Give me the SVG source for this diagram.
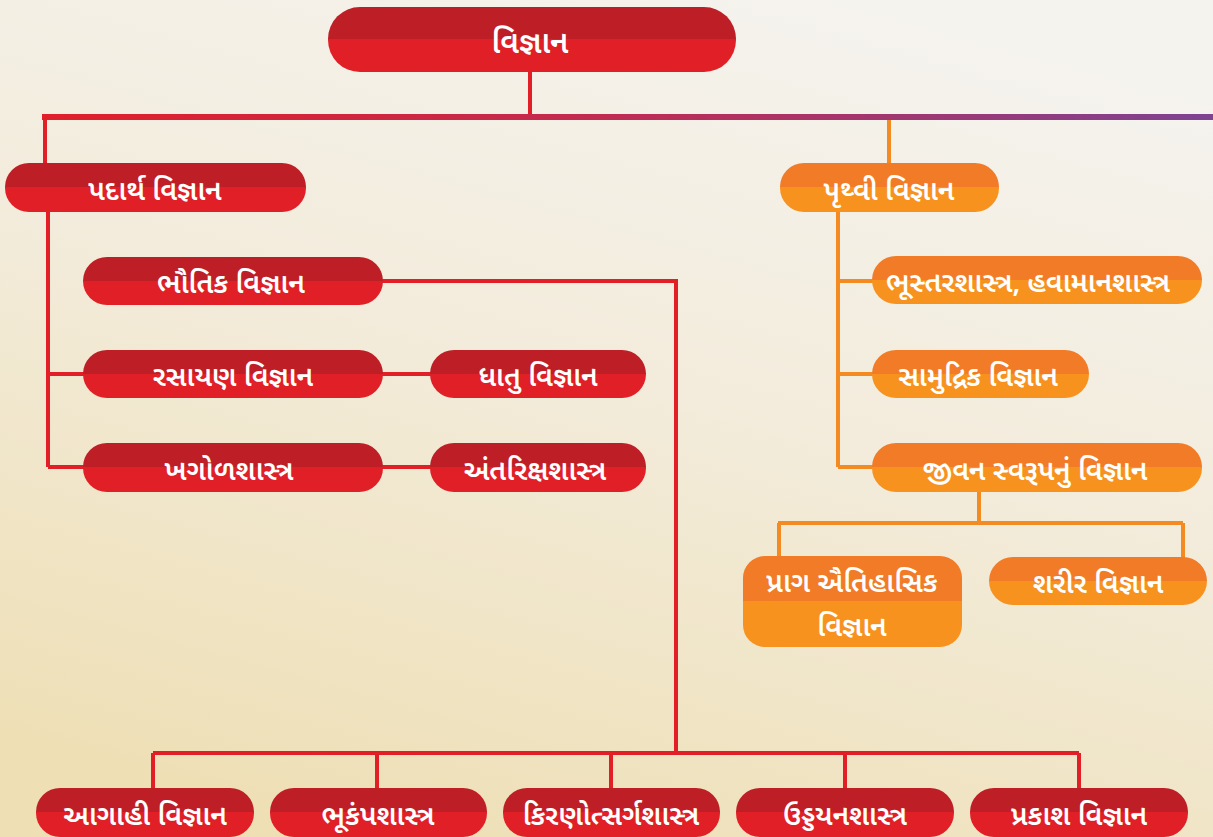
<svg xmlns="http://www.w3.org/2000/svg" width="1213" height="837" viewBox="0 0 1213 837">
<defs>
<linearGradient id="bg" x1="0.7" y1="0" x2="0.3" y2="1">
<stop offset="0" stop-color="#F5F3EE"/>
<stop offset="0.45" stop-color="#F3ECDC"/>
<stop offset="1" stop-color="#EEDFB5"/>
</linearGradient>
<linearGradient id="redP" x1="0" y1="0" x2="0" y2="1">
<stop offset="0.5" stop-color="#BE1E26"/>
<stop offset="0.5" stop-color="#E01F27"/>
</linearGradient>
<linearGradient id="orgP" x1="0" y1="0" x2="0" y2="1">
<stop offset="0.5" stop-color="#F17B27"/>
<stop offset="0.5" stop-color="#F7921F"/>
</linearGradient>
<linearGradient id="mainLine" gradientUnits="userSpaceOnUse" x1="42" y1="0" x2="1213" y2="0">
<stop offset="0" stop-color="#E01F2A"/>
<stop offset="0.45" stop-color="#C42A4E"/>
<stop offset="1" stop-color="#7E4392"/>
</linearGradient>
</defs>
<style>
.r{fill:url(#redP)}
.o{fill:url(#orgP)}
.t{fill:#FFFFFF;font-family:"Noto Sans Gujarati","Lohit Gujarati","Shruti","Noto Sans","DejaVu Sans",sans-serif;font-size:28px;font-weight:600;text-anchor:middle}
.cr{stroke:#E21E27;stroke-width:4;fill:none}
.co{stroke:#F38A22;stroke-width:4;fill:none}
</style>
<rect width="1213" height="837" fill="url(#bg)"/>
<g id="connectors">
<path class="cr" d="M530 72V117"/>
<path d="M42 117H1213" stroke="url(#mainLine)" stroke-width="6" fill="none"/>
<path class="cr" d="M45 117V164"/>
<path class="co" d="M889 120V164"/>
<path class="cr" d="M48 211V467M48 374H84M48 467H84M382 374H431M382 467H431"/>
<path class="cr" d="M382 281H676V753M153 753H1079M153 753V790M377 753V790M611 753V790M845 753V790M1079 753V790"/>
<path class="co" d="M838 211V467M838 281H873M838 374H873M838 467H873"/>
<path class="co" d="M979 491V523M778 523H1183M779 523V557M1183 523V558"/>
</g>
<g id="n-vigyan"><rect class="r" x="328" y="7" width="408" height="65" rx="32"/><text class="t" x="530" y="53" style="font-size:31px">વિજ્ઞાન</text></g>
<g id="n-padarth"><rect class="r" x="5" y="163" width="301" height="49" rx="24"/><text class="t" x="155" y="200">પદાર્થ વિજ્ઞાન</text></g>
<g id="n-prithvi"><rect class="o" x="780" y="163" width="219" height="49" rx="24"/><text class="t" x="889" y="200">પૃથ્વી વિજ્ઞાન</text></g>
<g id="n-bhautik"><rect class="r" x="83" y="257" width="300" height="48" rx="24"/><text class="t" x="231" y="293">ભૌતિક વિજ્ઞાન</text></g>
<g id="n-rasayan"><rect class="r" x="83" y="350" width="300" height="48" rx="24"/><text class="t" x="233" y="386">રસાયણ વિજ્ઞાન</text></g>
<g id="n-dhatu"><rect class="r" x="430" y="350" width="216" height="48" rx="24"/><text class="t" x="538" y="386">ધાતુ વિજ્ઞાન</text></g>
<g id="n-khagol"><rect class="r" x="83" y="443" width="300" height="49" rx="24"/><text class="t" x="229" y="480">ખગોળશાસ્ત્ર</text></g>
<g id="n-antariksh"><rect class="r" x="430" y="443" width="216" height="49" rx="24"/><text class="t" x="535" y="480">અંતરિક્ષશાસ્ત્ર</text></g>
<g id="n-bhustar"><rect class="o" x="872" y="256" width="330" height="48" rx="24"/><text class="t" x="1028" y="292">ભૂસ્તરશાસ્ત્ર, હવામાનશાસ્ત્ર</text></g>
<g id="n-samudrik"><rect class="o" x="872" y="350" width="217" height="48" rx="24"/><text class="t" x="978" y="386">સામુદ્રિક વિજ્ઞાન</text></g>
<g id="n-jivan"><rect class="o" x="872" y="443" width="330" height="49" rx="24"/><text class="t" x="1035" y="480">જીવન સ્વરૂપનું વિજ્ઞાન</text></g>
<g id="n-prag"><rect class="o" x="743" y="556" width="219" height="91" rx="22"/><text class="t" x="852" y="592">પ્રાગ ઐતિહાસિક</text><text class="t" x="852" y="636">વિજ્ઞાન</text></g>
<g id="n-sharir"><rect class="o" x="989" y="557" width="218" height="48" rx="24"/><text class="t" x="1098" y="593">શરીર વિજ્ઞાન</text></g>
<g id="n-agahi"><rect class="r" x="36" y="788" width="218" height="49" rx="24"/><text class="t" x="145" y="825">આગાહી વિજ્ઞાન</text></g>
<g id="n-bhukamp"><rect class="r" x="270" y="788" width="217" height="49" rx="24"/><text class="t" x="378" y="825">ભૂકંપશાસ્ત્ર</text></g>
<g id="n-kiranotsarg"><rect class="r" x="503" y="788" width="217" height="49" rx="24"/><text class="t" x="611" y="825">કિરણોત્સર્ગશાસ્ત્ર</text></g>
<g id="n-uddayan"><rect class="r" x="736" y="788" width="218" height="49" rx="24"/><text class="t" x="845" y="825">ઉડ્ડયનશાસ્ત્ર</text></g>
<g id="n-prakash"><rect class="r" x="970" y="788" width="218" height="49" rx="24"/><text class="t" x="1079" y="825">પ્રકાશ વિજ્ઞાન</text></g>
</svg>
